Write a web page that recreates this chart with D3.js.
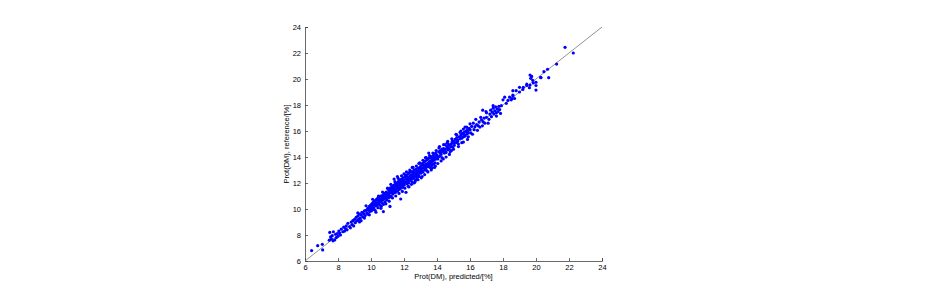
<!DOCTYPE html>
<html><head><meta charset="utf-8">
<script src="https://cdn.jsdelivr.net/npm/d3@7"></script>
<style>body{margin:0;background:#fff}svg{display:block}text{font-family:"Liberation Sans",Arial,sans-serif}</style>
</head><body>
<svg id="c" width="930" height="300"></svg>
<script>
const xTicks = [6,8,10,12,14,16,18,20,22,24];
const yTicks = [6,8,10,12,14,16,18,20,22,24];
const xLabel = "Prot(DM), predicted/[%]";
const yLabel = "Prot(DM), reference/[%]";
const refLine = [6,24];
const points = [
[6.4,6.8],[6.77,7.18],[7.05,7.28],[7.07,6.85],[7.47,7.6],[7.5,8.2],[7.72,8.25],[7.55,7.85],[7.6,7.7],[7.65,7.95],[7.7,7.55],[7.8,7.62],[7.85,8.05],[7.9,7.8],[7.95,8.1],
[8.0,7.9],[8.05,8.3],[8.1,8.15],[8.15,8.0],[8.2,8.45],[8.3,8.25],[8.35,8.6],[8.4,8.3],[8.45,8.5],[8.5,8.7],[8.55,8.4],[8.6,8.9],[8.7,8.65],[8.75,8.55],[8.8,9.0],[8.85,8.8],[8.9,9.1],[8.95,8.7],
[9.0,9.2],[9.05,8.95],[9.1,9.35],[9.15,9.1],[9.2,9.45],[9.25,9.2],[9.3,9.6],[9.35,9.3],[9.4,9.55],[9.45,9.75],[9.5,9.4],[9.55,9.65],[9.6,9.85],[9.65,9.5],[9.7,9.9],[9.75,9.7],[9.8,10.05],[9.82,9.6],[9.85,9.95],[9.9,10.2],[9.92,9.8],[9.95,10.0],[9.98,10.3],[9.6,9.3],[9.3,9.0],
[10.0,10.1],[10.02,9.85],[10.05,10.4],[10.08,10.2],[10.1,9.95],[10.12,10.5],[10.15,10.3],[10.18,10.1],[10.2,10.6],[10.22,10.35],[10.25,9.9],[10.28,10.45],[10.3,10.7],[10.32,10.25],[10.35,10.5],[10.38,10.8],[10.4,10.4],[10.42,10.1],[10.45,10.65],[10.48,10.9],[10.5,10.5],[10.52,10.3],[10.55,10.75],[10.58,11.0],[10.6,10.6],[10.62,10.2],[10.65,10.85],[10.68,10.45],[10.7,11.05],[10.72,10.7],[10.75,10.35],[10.78,10.95],[10.8,11.2],[10.82,10.8],[10.85,10.55],[10.88,11.1],[10.9,10.9],[10.92,11.3],[10.95,10.7],[10.98,11.0],
[11.0,11.2],[11.02,10.85],[11.05,11.5],[11.08,11.1],[11.1,11.35],[11.12,10.9],[11.15,11.6],[11.18,11.25],[11.2,11.45],[11.22,11.0],[11.25,11.7],[11.28,11.35],[11.3,11.55],[11.32,11.15],[11.35,11.8],[11.38,11.4],[11.4,11.65],[11.42,11.25],[11.45,11.9],[11.48,11.5],[11.5,11.75],[11.52,11.3],[11.55,12.0],[11.58,11.6],[11.6,11.85],[11.62,11.4],[11.65,12.1],[11.68,11.7],[11.7,11.95],[11.72,11.5],[11.75,12.2],[11.78,11.8],[11.8,12.05],[11.82,11.6],[11.85,12.3],[11.88,11.9],[11.9,12.15],[11.92,11.7],[11.95,12.4],[11.98,12.0],[10.75,9.8],[11.15,10.2],[11.8,10.77],[11.4,12.3],[11.6,12.5],
[12.0,12.2],[12.02,11.85],[12.05,12.45],[12.08,12.05],[12.1,12.6],[12.12,11.28],[12.15,12.3],[12.18,11.95],[12.2,12.5],[12.22,12.15],[12.25,12.7],[12.28,12.0],[12.3,12.4],[12.32,12.8],[12.35,12.2],[12.38,12.55],[12.4,12.9],[12.42,12.3],[12.45,12.65],[12.48,12.1],[12.5,12.5],[12.52,12.85],[12.55,12.35],[12.58,12.7],[12.6,13.0],[12.62,12.45],[12.65,12.8],[12.68,12.25],[12.7,12.65],[12.72,13.05],[12.75,12.55],[12.78,12.9],[12.8,12.4],[12.82,12.75],[12.85,13.15],[12.88,12.6],[12.9,12.95],[12.92,12.5],[12.95,12.85],[12.98,13.25],[12.3,11.7],[12.6,12.0],[12.9,13.5],[12.5,13.2],[12.7,12.2],
[13.0,13.1],[13.02,12.75],[13.05,13.35],[13.08,12.95],[13.1,13.5],[13.12,13.15],[13.15,12.85],[13.18,13.4],[13.2,13.2],[13.22,13.6],[13.25,13.0],[13.28,13.3],[13.3,13.7],[13.32,13.15],[13.35,13.45],[13.38,12.95],[13.4,13.35],[13.42,13.8],[13.45,13.25],[13.48,13.55],[13.5,13.9],[13.52,13.4],[13.55,13.65],[13.58,13.2],[13.6,13.5],[13.62,13.95],[13.65,13.6],[13.68,13.35],[13.7,13.8],[13.72,14.05],[13.75,13.7],[13.78,13.45],[13.8,13.9],[13.82,14.2],[13.85,13.8],[13.88,13.55],[13.9,14.0],[13.92,14.3],[13.95,13.85],[13.98,14.1],[13.1,12.5],[13.5,14.3],[13.9,13.3],[13.3,13.95],[13.7,13.15],
[14.0,14.15],[14.05,13.85],[14.1,14.4],[14.15,14.05],[14.2,14.5],[14.25,14.2],[14.3,13.95],[14.35,14.45],[14.4,14.65],[14.45,14.3],[14.5,14.6],[14.55,14.35],[14.6,14.8],[14.65,14.55],[14.7,14.95],[14.75,14.6],[14.8,14.4],[14.85,14.85],[14.9,15.05],[14.95,14.75],[14.12,14.7],[14.38,13.85],[14.62,15.1],[14.88,14.5],[14.5,14.95],[14.2,14.3],[14.7,14.7],[14.3,14.6],[14.92,15.2],[14.8,14.95],
[15.0,15.2],[15.05,14.9],[15.1,15.35],[15.15,15.1],[15.2,15.5],[15.25,15.3],[15.3,15.0],[15.35,15.55],[15.4,15.4],[15.45,15.7],[15.5,15.45],[15.55,15.8],[15.6,15.55],[15.65,15.9],[15.7,15.6],[15.75,16.0],[15.8,15.75],[15.85,16.1],[15.9,15.85],[15.95,16.2],[15.2,15.7],[15.5,15.1],[15.8,16.3],[15.4,15.9],[15.6,16.15],[15.9,15.55],
[16.0,16.1],[16.05,15.85],[16.1,16.35],[16.2,16.6],[16.25,16.1],[16.3,16.33],[16.4,16.5],[16.5,16.4],[16.55,16.7],[16.6,16.3],[16.7,16.85],[16.8,16.7],[16.77,17.6],[16.85,17.0],[16.9,16.6],[16.97,17.5],[17.0,17.05],[17.1,16.6],
[17.2,17.3],[17.25,17.6],[17.3,17.1],[17.35,17.45],[17.4,17.75],[17.45,17.3],[17.5,17.55],[17.55,17.85],[17.6,17.4],[17.65,17.7],[17.7,17.5],[17.75,17.9],[17.8,17.65],[17.85,17.35],[17.9,17.95],[18.0,18.4],[18.1,18.6],[18.2,18.13],[18.3,18.35],[18.4,18.6],[18.5,18.4],[18.6,18.77],[18.55,18.5],[18.7,18.5],
[18.8,19.1],[18.6,18.7],[18.6,19.1],[19.0,19.36],[19.0,19.0],[19.23,19.36],[19.2,19.2],[19.44,19.5],[19.44,19.6],[19.6,19.33],[19.64,19.54],[19.64,20.3],[19.68,20.05],[19.74,20.2],[19.8,19.9],[19.84,19.7],[20.0,19.75],[20.0,19.15],[20.0,19.5],[20.28,20.13],[20.3,20.1],[20.48,20.56],[20.7,20.75],[20.77,20.1],[21.25,21.15],[21.76,22.44],[22.26,22.0],
[9.2,9.7],[9.4,9.1],[9.7,10.25],[9.9,9.55],[10.1,10.75],[10.3,9.75],[10.45,11.0],[10.6,10.05],[10.7,11.3],[10.9,10.4],[11.0,11.6],[11.1,10.6],[11.2,11.9],[11.3,10.85],[11.45,12.1],[11.5,11.0],[11.65,12.35],[11.7,11.2],[11.85,12.55],[11.9,11.35],[12.0,12.7],[12.05,11.6],[12.15,12.85],[12.25,11.75],[12.35,13.0],[12.45,11.9],[12.55,13.2],[12.65,12.05],[12.75,13.3],[12.85,12.25],[12.95,13.55],[13.05,12.4],[13.15,13.75],[13.25,12.65],[13.35,13.95],[13.45,12.85],[13.55,14.1],[13.65,13.0],[13.75,14.3],[13.85,13.2],[13.95,14.5],[14.05,13.5],[14.15,14.8],[14.25,13.7],[14.4,14.95],[14.55,14.0],[14.65,15.2],[14.75,14.2],[14.9,15.4],[15.0,14.6],[15.15,15.75],[15.3,14.8],[15.45,16.0],[15.6,15.15],[15.7,16.3],[15.85,15.35],[16.0,16.55],[16.15,15.75],[16.35,16.9],[16.45,16.05],[16.65,17.05],[16.75,16.4],[17.0,17.4],[17.15,16.9],[17.4,17.95],[17.6,17.15],
[10.05,10.0],[10.35,10.35],[10.65,10.7],[10.95,10.95],[11.05,11.05],[11.25,11.3],[11.45,11.45],[11.65,11.65],[11.85,11.85],[12.05,12.1],[12.25,12.3],[12.45,12.4],[12.65,12.6],[12.85,12.9],[13.05,13.0],[13.25,13.3],[13.45,13.4],[13.65,13.7],[13.85,13.9],[14.05,14.0],[14.25,14.35],[14.45,14.45],[14.65,14.7],[14.85,14.8],[15.05,15.1],[15.25,15.2],[15.45,15.5],[15.65,15.7],[15.85,15.9]
];
const predicted = points.map(p => p[0]);
const reference = points.map(p => p[1]);

const svg = d3.select("#c");
const x = d3.scaleLinear().domain([6,24]).range([305,602]);
const y = d3.scaleLinear().domain([6,24]).range([261,27]);
const axCol = "#444";

const gx = svg.append("g").attr("transform","translate(0,261)")
  .call(d3.axisBottom(x).tickValues(xTicks).tickSize(-3).tickPadding(4));
const gy = svg.append("g").attr("transform","translate(305,0)")
  .call(d3.axisLeft(y).tickValues(yTicks).tickSize(-3).tickPadding(4));
[gx,gy].forEach(g=>{
  g.selectAll("path,line").attr("stroke",axCol).attr("stroke-width",0.8);
  g.selectAll("text").attr("font-size",7.5).attr("fill","#000").attr("font-family","Liberation Sans, Arial, sans-serif");
});

svg.append("line")
  .attr("x1",x(refLine[0])).attr("y1",y(refLine[0]))
  .attr("x2",x(refLine[1])).attr("y2",y(refLine[1]))
  .attr("stroke","#777").attr("stroke-width",0.8);

svg.append("g").selectAll("circle").data(predicted).join("circle")
  .attr("cx",(d)=>x(d)).attr("cy",(d,i)=>y(reference[i])).attr("r",1.6).attr("fill","#0000ff");

svg.append("text").attr("x",(x(6)+x(24))/2).attr("y",279).attr("text-anchor","middle")
  .attr("font-size",7.5).text(xLabel);
svg.append("text").attr("transform",`translate(289,${(y(6)+y(24))/2}) rotate(-90)`).attr("text-anchor","middle")
  .attr("font-size",7.5).text(yLabel);
</script>
</body></html>
